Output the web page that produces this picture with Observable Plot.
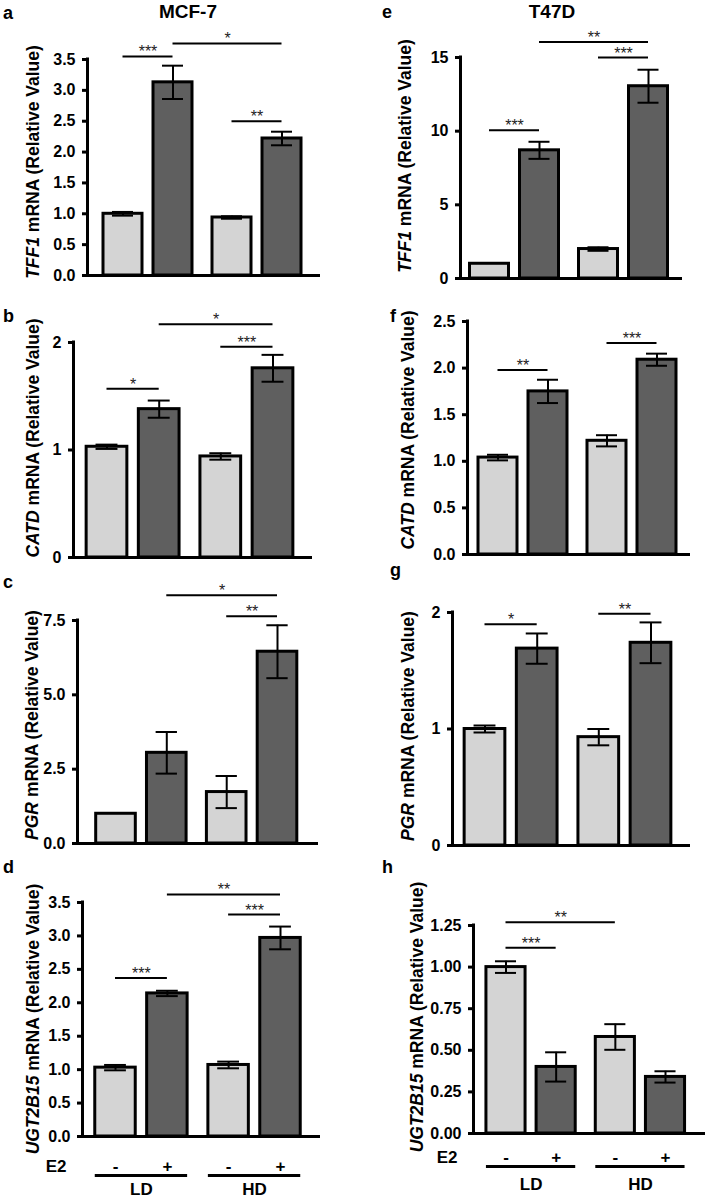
<!DOCTYPE html>
<html><head><meta charset="utf-8">
<script src="https://cdn.jsdelivr.net/npm/d3@7"></script>
<script src="https://cdn.jsdelivr.net/npm/@observablehq/plot@0.6"></script>
<style>
html,body{margin:0;padding:0;background:#fff;}
#page{position:relative;width:707px;height:1200px;overflow:hidden;font-family:'Liberation Sans',Arial,sans-serif;}
#page svg{position:absolute;overflow:visible;}
</style></head><body><div id="page"></div>
<script>
// ---------- data ----------
const conditions = ["LD E2-", "LD E2+", "HD E2-", "HD E2+"];
const e2Labels = ["-", "+", "-", "+"];
const groups = ["LD", "HD"];
const cellLines = ["MCF-7", "T47D"];

// MCF-7
const tff1Mcf7Mean = [1.00, 3.13, 0.94, 2.22];
const tff1Mcf7Err  = [0.03, 0.27, 0.02, 0.11];
const tff1Mcf7Sig  = [{from:0,to:1,y:3.55,label:"***"},{from:1,to:3,y:3.76,label:"*"},{from:2,to:3,y:2.50,label:"**"}];

const catdMcf7Mean = [1.03, 1.38, 0.94, 1.76];
const catdMcf7Err  = [0.02, 0.08, 0.03, 0.125];
const catdMcf7Sig  = [{from:0,to:1,y:1.57,label:"*"},{from:1,to:3,y:2.17,label:"*"},{from:2,to:3,y:1.96,label:"***"}];

const pgrMcf7Mean = [1.00, 3.05, 1.73, 6.45];
const pgrMcf7Err  = [0, 0.70, 0.54, 0.89];
const pgrMcf7Sig  = [{from:1,to:3,y:8.35,label:"*"},{from:2,to:3,y:7.64,label:"**"}];

const ugtMcf7Mean = [1.03, 2.14, 1.07, 2.97];
const ugtMcf7Err  = [0.04, 0.04, 0.05, 0.17];
const ugtMcf7Sig  = [{from:0,to:1,y:2.37,label:"***"},{from:1,to:3,y:3.62,label:"**"},{from:2,to:3,y:3.32,label:"***"}];

// T47D
const tff1T47dMean = [1.00, 8.70, 2.00, 13.05];
const tff1T47dErr  = [0, 0.58, 0.12, 1.12];
const tff1T47dSig  = [{from:0,to:1,y:10.07,label:"***"},{from:1,to:3,y:16.05,label:"**"},{from:2,to:3,y:15.0,label:"***"}];

const catdT47dMean = [1.04, 1.75, 1.22, 2.09];
const catdT47dErr  = [0.03, 0.125, 0.06, 0.065];
const catdT47dSig  = [{from:0,to:1,y:1.98,label:"**"},{from:2,to:3,y:2.27,label:"***"}];

const pgrT47dMean = [1.00, 1.69, 0.93, 1.74];
const pgrT47dErr  = [0.03, 0.13, 0.07, 0.175];
const pgrT47dSig  = [{from:0,to:1,y:1.90,label:"*"},{from:2,to:3,y:1.99,label:"**"}];

const ugtT47dMean = [1.00, 0.40, 0.58, 0.34];
const ugtT47dErr  = [0.035, 0.088, 0.077, 0.034];
const ugtT47dSig  = [{from:0,to:2,y:1.27,label:"**"},{from:0,to:1,y:1.116,label:"***"}];

// tick labels
const ticks35 = [0, 0.5, 1, 1.5, 2, 2.5, 3, 3.5];
const ticks15 = [0, 5, 10, 15];
const ticks2 = [0, 1, 2];
const ticks25 = [0, 0.5, 1, 1.5, 2, 2.5];
const ticks75 = [0, 2.5, 5, 7.5];
const ticks125 = [0, 0.25, 0.5, 0.75, 1, 1.25];

const panelsData = [
  {id:"a", gene:"TFF1", mean:tff1Mcf7Mean, err:tff1Mcf7Err, sig:tff1Mcf7Sig, ticks:ticks35, fmt:".1f"},
  {id:"b", gene:"CATD", mean:catdMcf7Mean, err:catdMcf7Err, sig:catdMcf7Sig, ticks:ticks2, fmt:"d"},
  {id:"c", gene:"PGR", mean:pgrMcf7Mean, err:pgrMcf7Err, sig:pgrMcf7Sig, ticks:ticks75, fmt:".1f"},
  {id:"d", gene:"UGT2B15", mean:ugtMcf7Mean, err:ugtMcf7Err, sig:ugtMcf7Sig, ticks:ticks35, fmt:".1f"},
  {id:"e", gene:"TFF1", mean:tff1T47dMean, err:tff1T47dErr, sig:tff1T47dSig, ticks:ticks15, fmt:"d"},
  {id:"f", gene:"CATD", mean:catdT47dMean, err:catdT47dErr, sig:catdT47dSig, ticks:ticks25, fmt:".1f"},
  {id:"g", gene:"PGR", mean:pgrT47dMean, err:pgrT47dErr, sig:pgrT47dSig, ticks:ticks2, fmt:"d"},
  {id:"h", gene:"UGT2B15", mean:ugtT47dMean, err:ugtT47dErr, sig:ugtT47dSig, ticks:ticks125, fmt:".2f"}
];

// ---------- layout (pixels) ----------
const COLS = [{left:0, width:350}, {left:350, width:357}];
const ROWS = [{top:0,height:290},{top:290,height:290},{top:580,height:290},{top:870,height:330}];
const layout = {
  a:{col:0,row:0,axisX:87, xEnd:320,yTop:59, y0:275, c1:122.5,c4:281.5,lx:33, ly:162, letter:[3,19]},
  b:{col:0,row:1,axisX:73, xEnd:312,yTop:342,y0:557, c1:106.5,c4:272.5,lx:33, ly:438, letter:[3,322]},
  c:{col:0,row:2,axisX:77, xEnd:318,yTop:620,y0:843, c1:115.5,c4:277,  lx:32, ly:725, letter:[3,588]},
  d:{col:0,row:3,axisX:82, xEnd:320,yTop:902,y0:1136,c1:115,  c4:280,  lx:33, ly:1019,letter:[3,873], bottom:{e2:30,line:39,grp:53}},
  e:{col:1,row:0,axisX:460,xEnd:682,yTop:57, y0:278, c1:489,  c4:648,  lx:405,ly:156, letter:[382,18]},
  f:{col:1,row:1,axisX:467,xEnd:690,yTop:321,y0:554, c1:497.5,c4:656.5,lx:408,ly:430, letter:[390,322]},
  g:{col:1,row:2,axisX:452,xEnd:690,yTop:612,y0:845, c1:484.5,c4:650.5,lx:408,ly:726, letter:[390,576]},
  h:{col:1,row:3,axisX:473,xEnd:705,yTop:925,y0:1133,c1:505.5,c4:665,  lx:417,ly:1017,letter:[382,873], bottom:{e2:24,line:33,grp:51}}
};
const titlePos = [[188,18],[552,18]];

const GAP = 1.18, HW = 0.39, CAP = 0.21;
const pos = [0, 1, 1 + GAP, 2 + GAP];
const barColors = ["#d4d4d4", "#5f5f5f"];
const FONT = "'Liberation Sans', Arial, Helvetica, sans-serif";
const page = document.getElementById("page");

function drawPanel(D) {
  const L = layout[D.id];
  const col = COLS[L.col], row = ROWS[L.row];
  const ppu = (L.c4 - L.c1) / (2 + GAP);
  const xa = (L.axisX - L.c1) / ppu, xb = (L.xEnd - L.c1) / ppu;
  const ymax = D.ticks[D.ticks.length - 1];
  const rows = D.mean.map((m, i) => ({cond: conditions[i], pos: pos[i], mean: m, err: D.err[i], fill: barColors[i % 2], e2: e2Labels[i]}));
  const withErr = rows.filter(r => r.err > 0);
  const marks = [
    Plot.rect(rows, {x1: r => r.pos - HW, x2: r => r.pos + HW, y1: 0, y2: "mean", fill: "fill", stroke: "#000", strokeWidth: 3}),
    Plot.ruleX(withErr, {x: "pos", y1: r => r.mean - r.err, y2: r => r.mean + r.err, stroke: "#000", strokeWidth: 2}),
    Plot.ruleY(withErr, {x1: r => r.pos - CAP, x2: r => r.pos + CAP, y: r => r.mean + r.err, stroke: "#000", strokeWidth: 2}),
    Plot.ruleY(withErr, {x1: r => r.pos - CAP, x2: r => r.pos + CAP, y: r => r.mean - r.err, stroke: "#000", strokeWidth: 2}),
    Plot.ruleX([xa], {y1: 0, y2: ymax, stroke: "#000", strokeWidth: 3, strokeLinecap: "square"}),
    Plot.ruleY([0], {x1: xa, x2: xb, stroke: "#000", strokeWidth: 3}),
    Plot.axisY({ticks: D.ticks, tickFormat: d3.format(D.fmt), tickSize: 5, tickPadding: 7, fontSize: 16, fontWeight: "bold", strokeWidth: 3, label: null}),
    Plot.ruleY(D.sig, {x1: s => pos[s.from], x2: s => pos[s.to], y: "y", stroke: "#000", strokeWidth: 2}),
    Plot.text(D.sig, {x: s => (pos[s.from] + pos[s.to]) / 2, y: "y", text: "label", lineAnchor: "bottom", dy: 1, fontSize: 16, fill: "#222"})
  ];
  if (L.bottom) {
    marks.push(
      Plot.text(rows, {x: "pos", y: 0, text: "e2", dy: L.bottom.e2, fontSize: 17, fontWeight: "bold"}),
      Plot.text(["E2"], {x: xa, y: 0, text: d => d, dy: L.bottom.e2, dx: -16, textAnchor: "end", fontSize: 17, fontWeight: "bold"}),
      Plot.ruleY(groups, {x1: (g, i) => pos[2 * i] - HW, x2: (g, i) => pos[2 * i + 1] + HW, y: 0, dy: L.bottom.line, stroke: "#000", strokeWidth: 3}),
      Plot.text(groups, {x: (g, i) => (pos[2 * i] + pos[2 * i + 1]) / 2, y: 0, text: d => d, dy: L.bottom.grp, fontSize: 17, fontWeight: "bold"})
    );
  }
  const svg = Plot.plot({
    width: col.width, height: row.height,
    marginLeft: L.axisX - col.left, marginRight: col.left + col.width - L.xEnd,
    marginTop: L.yTop - row.top, marginBottom: row.top + row.height - L.y0,
    x: {domain: [xa, xb], axis: null},
    y: {domain: [0, ymax]},
    color: {type: "identity"},
    style: {fontFamily: FONT, fontSize: "16px", color: "#000", background: "transparent", overflow: "visible"},
    marks
  });
  svg.style.left = col.left + "px";
  svg.style.top = row.top + "px";
  d3.select(svg).selectAll('g[aria-label="y-axis tick label"]').attr("font-weight", "bold").attr("font-size", 16);
  d3.select(svg).selectAll('g[aria-label="y-axis tick"]').attr("stroke-width", 3);
  const t = d3.select(svg).append("text")
    .attr("transform", `translate(${L.lx - col.left},${L.ly - row.top}) rotate(-90)`)
    .attr("text-anchor", "middle").attr("dy", "0.35em")
    .attr("fill", "#000")
    .style("font", `bold 17.5px ${FONT}`);
  t.append("tspan").attr("font-style", "italic").text(D.gene);
  t.append("tspan").text(" mRNA (Relative Value)");
  page.appendChild(svg);
}

panelsData.forEach(drawPanel);

// titles and panel letters
const over = d3.create("svg").attr("width", 707).attr("height", 1200).style("left", "0px").style("top", "0px");
cellLines.forEach((name, i) => {
  over.append("text").attr("x", titlePos[i][0]).attr("y", titlePos[i][1]).attr("text-anchor", "middle")
    .style("font", `bold 19px ${FONT}`).attr("fill", "#000").text(name);
});
panelsData.forEach(D => {
  const L = layout[D.id];
  over.append("text").attr("x", L.letter[0]).attr("y", L.letter[1])
    .style("font", `bold 18px ${FONT}`).attr("fill", "#000").text(D.id);
});
page.appendChild(over.node());
</script></body></html>
